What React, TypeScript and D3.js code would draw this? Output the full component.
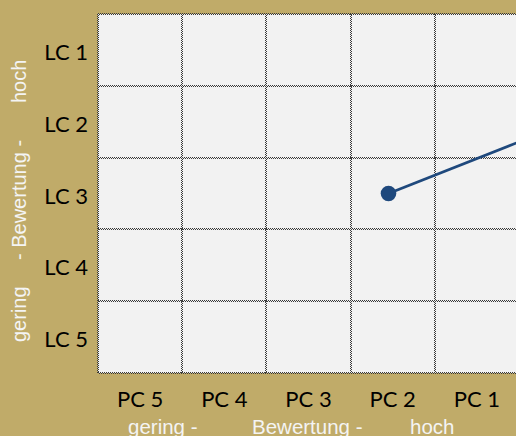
import React, { useEffect, useRef } from "react";
import * as d3 from "d3";

// categories
const pcLabels = ["PC 5", "PC 4", "PC 3", "PC 2", "PC 1"];
const pcValues = [5, 4, 3, 2, 1];
const lcLabels = ["LC 1", "LC 2", "LC 3", "LC 4", "LC 5"];
const lcValues = [1, 2, 3, 4, 5];

// the path (first point visible, second one past the right edge)
const pathPc = [2.05, 0];
const pathLc = [3, 2.05];

const W = 516;
const H = 436;

function Chart() {
  const ref = useRef<SVGSVGElement>(null);

  useEffect(() => {
    draw();
  }, []);

  function draw() {
    const svg = d3.select(ref.current);
    svg.selectAll("*").remove();

    const left = 98;
    const top = 14;
    const colW = 84.2;
    const rowH = 71.8;

    const x = d3
      .scaleLinear()
      .domain([5.5, 0.5])
      .range([left, left + colW * 5]);
    const y = d3
      .scaleLinear()
      .domain([0.5, 5.5])
      .range([top, top + rowH * 5]);

    svg.append("rect").attr("width", W).attr("height", H).attr("fill", "#C0AB69");

    svg
      .append("rect")
      .attr("x", x(5.5))
      .attr("y", y(0.5))
      .attr("width", x(0.5) - x(5.5))
      .attr("height", y(5.5) - y(0.5))
      .attr("fill", "#F2F2F2");

    // dotted grid, drawn as two offset 1px dash rows to get the checker look
    const gridX = d3.range(0, 6).map((i) => 5.5 - i);
    const gridY = d3.range(0, 6).map((i) => 0.5 + i);
    const grid = svg.append("g").attr("stroke", "#3a3a3a").attr("stroke-width", 1).attr("stroke-dasharray", "1 1");

    gridX.forEach((v) => {
      const px = Math.round(x(v));
      [0, 1].forEach((k) => {
        grid
          .append("line")
          .attr("x1", px - 0.5 + k)
          .attr("x2", px - 0.5 + k)
          .attr("y1", y(0.5))
          .attr("y2", y(5.5))
          .attr("stroke-dashoffset", k);
      });
    });
    gridY.forEach((v) => {
      const py = Math.round(y(v));
      [0, 1].forEach((k) => {
        grid
          .append("line")
          .attr("y1", py - 0.5 + k)
          .attr("y2", py - 0.5 + k)
          .attr("x1", x(5.5))
          .attr("x2", x(0.5))
          .attr("stroke-dashoffset", k);
      });
    });

    // tick labels
    svg
      .append("g")
      .selectAll("text")
      .data(pcValues)
      .enter()
      .append("text")
      .attr("x", (d) => x(d))
      .attr("y", 407)
      .attr("text-anchor", "middle")
      .style("font-family", "Lato, sans-serif")
      .style("font-size", "22px")
      .attr("fill", "#000")
      .text((_, i) => pcLabels[i]);

    svg
      .append("g")
      .selectAll("text")
      .data(lcValues)
      .enter()
      .append("text")
      .attr("x", 88)
      .attr("y", (d) => y(d) + 10)
      .attr("text-anchor", "end")
      .style("font-family", "Lato, sans-serif")
      .style("font-size", "22px")
      .attr("fill", "#000")
      .text((_, i) => lcLabels[i]);

    // axis titles
    const titleFont = "'Liberation Sans', Arial, sans-serif";
    const bottom = [
      { t: "gering -", x: 128 },
      { t: "Bewertung -", x: 252 },
      { t: "hoch", x: 410 },
    ];
    svg
      .append("g")
      .selectAll("text")
      .data(bottom)
      .enter()
      .append("text")
      .attr("x", (d) => d.x)
      .attr("y", 434)
      .style("font-family", titleFont)
      .style("font-size", "20.5px")
      .attr("fill", "#F4F4F4")
      .text((d) => d.t);

    const side = [
      { t: "gering", y: 342 },
      { t: "- Bewertung -", y: 260 },
      { t: "hoch", y: 103 },
    ];
    svg
      .append("g")
      .selectAll("text")
      .data(side)
      .enter()
      .append("text")
      .attr("transform", (d) => `translate(26,${d.y}) rotate(-90)`)
      .style("font-family", titleFont)
      .style("font-size", "20px")
      .attr("fill", "#F4F4F4")
      .text((d) => d.t);

    // path
    const pts = pathPc.map((p, i) => [p, pathLc[i]] as [number, number]);
    const line = d3
      .line<[number, number]>()
      .x((d) => x(d[0]))
      .y((d) => y(d[1]));

    svg
      .append("path")
      .attr("d", line(pts))
      .attr("fill", "none")
      .attr("stroke", "#1F497D")
      .attr("stroke-width", 2.75);

    svg
      .append("circle")
      .attr("cx", x(pts[0][0]))
      .attr("cy", y(pts[0][1]))
      .attr("r", 7.8)
      .attr("fill", "#1F497D");
  }

  return (
    <svg
      ref={ref}
      width={W}
      height={H}
      style={{ position: "absolute", left: 0, top: 0, display: "block" }}
    />
  );
}

export default function App() {
  return <Chart />;
}
